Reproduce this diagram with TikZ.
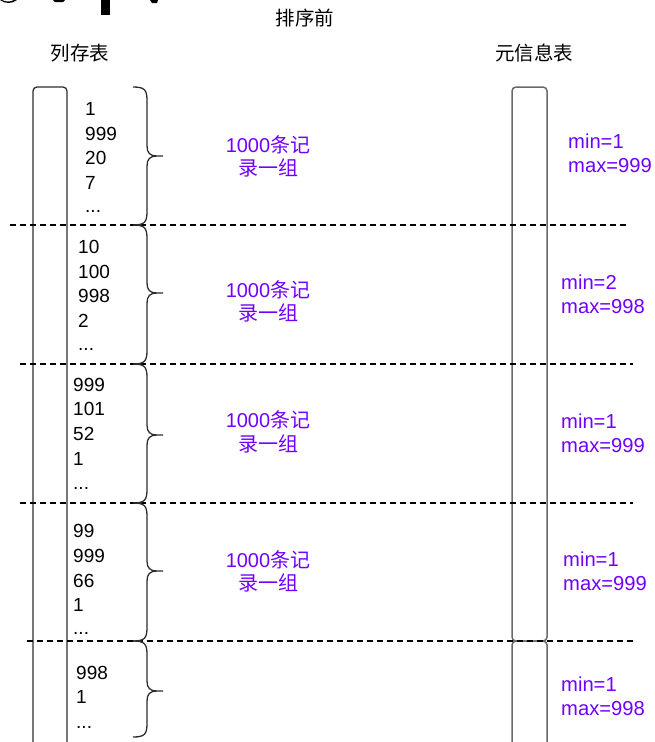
\documentclass[tikz,border=0pt]{standalone}
\usepackage{fontspec}
\setmainfont{Liberation Sans}
\newfontfamily\cjk{Noto Sans CJK SC}
\definecolor{vio}{RGB}{112,0,255}
\definecolor{boxgray}{RGB}{105,105,105}
\definecolor{ink}{RGB}{45,45,45}
\newcommand\grpbrace[3]{%
 \draw[brc] (133,#1) .. controls (145,#1) and (147,#1+3) .. (147,#1+14) -- (147,#3-10)
   .. controls (147,#3-3) and (150,#3) .. (157,#3) -- (163,#3)
   (157,#3) .. controls (150,#3) and (147,#3+3) .. (147,#3+10) -- (147,#2-14)
   .. controls (147,#2-3) and (145,#2) .. (133,#2);}
\tikzset{
 val/.style={anchor=base west, inner sep=0pt, font=\fontsize{19}{19}\selectfont},
 grp/.style={anchor=base, inner sep=0pt, text=vio, font=\fontsize{20}{20}\selectfont},
 mm/.style={anchor=base west, inner sep=0pt, text=vio, font=\fontsize{20.2}{20}\selectfont},
 hdr/.style={inner sep=0pt, font=\cjk\fontsize{19.5}{20}\selectfont},
 dsh/.style={dash pattern=on 6pt off 4pt, line width=1.2pt},
 brc/.style={line width=1.3pt, draw=ink},
 colbox/.style={line width=1.3pt, draw=ink, rounded corners=4pt},
 metabox/.style={line width=1.5pt, draw=boxgray, rounded corners=4pt}
}
\begin{document}
\begin{tikzpicture}[x=1pt,y=-1pt]
\useasboundingbox (0,0) rectangle (654,742);
\clip (0,0) rectangle (654,742);
% cut-off large glyphs at top
\fill (0,0) .. controls (5,4) and (12,4) .. (17,0) -- (14,0) .. controls (10,2) and (6,2) .. (2,0) -- cycle;
\fill (53,0) -- (65,0) -- (63,2) -- (55,2) -- cycle;
\fill (101,0) rectangle (110,15);
\fill (150,0) -- (158,0) -- (157,3) -- (152,3) -- cycle;
% headers
\node[hdr] (title) at (305,18) {排序前};
\node[hdr] (colhdr) at (80,53) {列存表};
\node[hdr] (metahdr) at (534,53) {元信息表};
% boxes
\draw[colbox] (33,87) rectangle (67,780);
\draw[metabox] (512,87) rectangle (547,641);
\draw[metabox] (512,641) rectangle (547,780);
% dashed separators
\draw[dsh] (10,225) -- (628,225);
\draw[dsh] (20,364) -- (633,364);
\draw[dsh] (20,503) -- (633,503);
\draw[dsh] (27,641) -- (634,641);
% braces
\grpbrace{87}{225}{156}
\grpbrace{225}{364}{293}
\grpbrace{364}{503}{435}
\grpbrace{503}{641}{571}
\grpbrace{641}{737}{691}
% values
\node[val] (a1) at (85,115) {1};
\node[val] (a2) at (85,140) {999};
\node[val] (a3) at (85,164) {20};
\node[val] (a4) at (85,189) {7};
\node[val] (a5) at (85,212) {...};
\node[val] (b1) at (78,253) {10};
\node[val] (b2) at (78,278) {100};
\node[val] (b3) at (78,302) {998};
\node[val] (b4) at (78,327) {2};
\node[val] (b5) at (78,350) {...};
\node[val] (c1) at (73,391) {999};
\node[val] (c2) at (73,415) {101};
\node[val] (c3) at (73,440) {52};
\node[val] (c4) at (73,465) {1};
\node[val] (c5) at (73,489) {...};
\node[val] (d1) at (73,537) {99};
\node[val] (d2) at (73,562) {999};
\node[val] (d3) at (73,587) {66};
\node[val] (d4) at (73,611) {1};
\node[val] (d5) at (73,634) {...};
\node[val] (e1) at (76,679) {998};
\node[val] (e2) at (76,703) {1};
\node[val] (e3) at (76,728) {...};
% group labels
\node[grp] (g1a) at (268,152) {1000{\cjk 条记}};
\node[grp] (g1b) at (268,175) {\cjk 录一组};
\node[grp] (g2a) at (268,297) {1000{\cjk 条记}};
\node[grp] (g2b) at (268,320) {\cjk 录一组};
\node[grp] (g3a) at (268,427) {1000{\cjk 条记}};
\node[grp] (g3b) at (268,451) {\cjk 录一组};
\node[grp] (g4a) at (268,567) {1000{\cjk 条记}};
\node[grp] (g4b) at (268,590) {\cjk 录一组};
% min/max
\node[mm] (m1a) at (568,148) {min=1};
\node[mm] (m1b) at (568,172) {max=999};
\node[mm] (m2a) at (561,289) {min=2};
\node[mm] (m2b) at (561,313) {max=998};
\node[mm] (m3a) at (561,428) {min=1};
\node[mm] (m3b) at (561,452) {max=999};
\node[mm] (m4a) at (563,566) {min=1};
\node[mm] (m4b) at (563,590) {max=999};
\node[mm] (m5a) at (561,691) {min=1};
\node[mm] (m5b) at (561,715) {max=998};
\end{tikzpicture}
\end{document}
